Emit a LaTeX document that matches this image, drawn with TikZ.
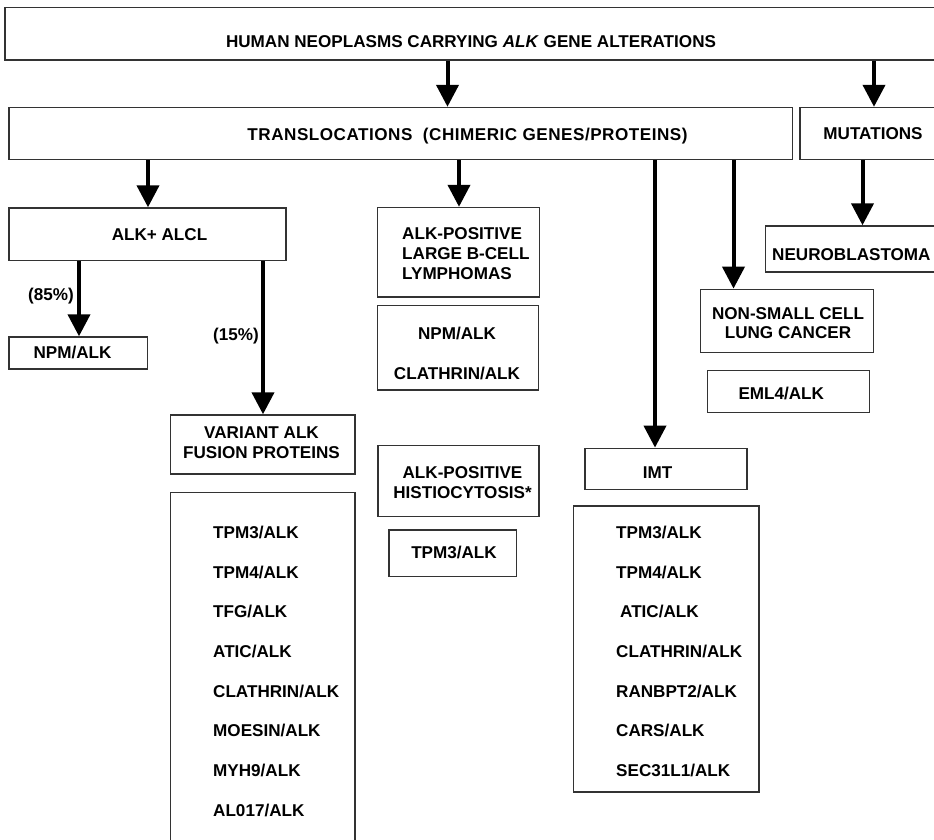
\documentclass[tikz,border=0pt]{standalone}
\usepackage{fontspec}
\setmainfont{Liberation Sans}
\usetikzlibrary{arrows.meta,fit}
\begin{document}
\begin{tikzpicture}[x=1pt,y=-1pt,
  box/.style={draw=black!80, line width=1.4pt, inner sep=0pt},
  arr/.style={line width=4pt, -{Triangle[width=22pt,length=22pt]}},
  lbl/.style={inner sep=0pt, font=\fontsize{17.1}{19.5}\selectfont\bfseries},
  lst/.style={inner sep=0pt, align=left, font=\fontsize{17.1}{39.7}\selectfont\bfseries}]
\useasboundingbox (0,0) rectangle (934,840);
\clip (0,0) rectangle (934,840);
\fill[white] (0,0) rectangle (934,840);
% boxes
\node[box, fit={(5,7.5) (945,60)}] (top) {};
\node[box, fit={(9,107.5) (792.5,159.5)}] (trans) {};
\node[box, fit={(800,107.5) (945,159.5)}] (mut) {};
\node[box, fit={(765.5,226) (945,272)}] (neuro) {};
\node[box, fit={(9,208) (286,260.5)}] (alcl) {};
\node[box, fit={(9,337) (147.5,369)}] (npm) {};
\node[box, fit={(170.5,415) (355,474)}] (variant) {};
\node[box, fit={(170.5,492.5) (355,870)}] (vlist) {};
\node[box, fit={(377.5,207.5) (539.5,297)}] (lbcl) {};
\node[box, fit={(377.5,305.5) (538.5,390)}] (lbclf) {};
\node[box, fit={(378,445.5) (539,516.5)}] (hist) {};
\node[box, fit={(389,530) (516.5,576.5)}] (histf) {};
\node[box, fit={(585,448.3) (747,489.5)}] (imt) {};
\node[box, fit={(573.5,506) (759,792)}] (imtlist) {};
\node[box, fit={(700.7,289.3) (873.3,352.3)}] (nsclc) {};
\node[box, fit={(707.3,370.7) (869.3,412.7)}] (eml) {};
% arrows
\draw[arr] (top.south -| 447.5,0) -- (trans.north -| 447.5,0);
\draw[arr] (top.south -| 874,0) -- (mut.north -| 874,0);
\draw[arr] (trans.south -| 148,0) -- (alcl.north -| 148,0);
\draw[arr] (trans.south -| 459,0) -- (lbcl.north -| 459,0);
\draw[arr] (trans.south -| 655,0) -- (imt.north -| 655,0);
\draw[arr] (trans.south -| 733.5,0) -- (nsclc.north -| 733.5,0);
\draw[arr] (mut.south -| 862.5,0) -- (neuro.north -| 862.5,0);
\draw[arr] (alcl.south -| 79,0) -- (npm.north -| 79,0);
\draw[arr] (alcl.south -| 263,0) -- (variant.north -| 263,0);
% texts
\node[lbl, anchor=north] (ttop) at (471,34.9) {HUMAN NEOPLASMS CARRYING \textit{ALK} GENE ALTERATIONS};
\node[lbl, anchor=north] (ttrans) at (467.5,128.1) {\addfontfeatures{LetterSpace=3}TRANSLOCATIONS\ \ (CHIMERIC GENES/PROTEINS)};
\node[lbl, anchor=north] (tmut) at (873,127.4) {MUTATIONS};
\node[lbl, anchor=north west] (tneuro) at (772,248.1) {NEUROBLASTOMA};
\node[lbl, anchor=north] (talcl) at (159.5,227.9) {ALK+ ALCL};
\node[lbl, anchor=north] (p85) at (51,287.9) {(85\%)};
\node[lbl, anchor=north] (tnpm) at (72.5,345.9) {NPM/ALK};
\node[lbl, anchor=north] (p15) at (236,327.9) {(15\%)};
\node[lbl, anchor=north, align=center] (tvariant) at (261.5,426.6) {VARIANT ALK\\FUSION PROTEINS};
\node[lst, anchor=north west] (tvlist) at (213,525.9) {TPM3/ALK\\TPM4/ALK\\TFG/ALK\\ATIC/ALK\\CLATHRIN/ALK\\MOESIN/ALK\\MYH9/ALK\\AL017/ALK};
\node[lbl, anchor=north west, align=left, font=\fontsize{17.1}{20}\selectfont\bfseries] (tlbcl) at (402,226.9) {ALK-POSITIVE\\LARGE B-CELL\\LYMPHOMAS};
\node[lbl, anchor=north, align=center, font=\fontsize{17.1}{40}\selectfont\bfseries] (tlbclf) at (457,326.6) {NPM/ALK\\CLATHRIN/ALK};
\node[lbl, anchor=north, align=center, font=\fontsize{17.1}{19.5}\selectfont\bfseries] (thist) at (462.5,466.6) {ALK-POSITIVE\\HISTIOCYTOSIS*};
\node[lbl, anchor=north] (thistf) at (454,545.6) {TPM3/ALK};
\node[lbl, anchor=north] (timt) at (657.5,466.2) {IMT};
\node[lst, anchor=north west] (timtlist) at (616,525.9) {TPM3/ALK\\TPM4/ALK\\\hspace{4pt}ATIC/ALK\\CLATHRIN/ALK\\RANBPT2/ALK\\CARS/ALK\\SEC31L1/ALK};
\node[lbl, anchor=north, align=center] (tnsclc) at (788,307.2) {NON-SMALL CELL\\LUNG CANCER};
\node[lbl, anchor=north west] (teml) at (738.3,386.9) {EML4/ALK};
\end{tikzpicture}
\end{document}
